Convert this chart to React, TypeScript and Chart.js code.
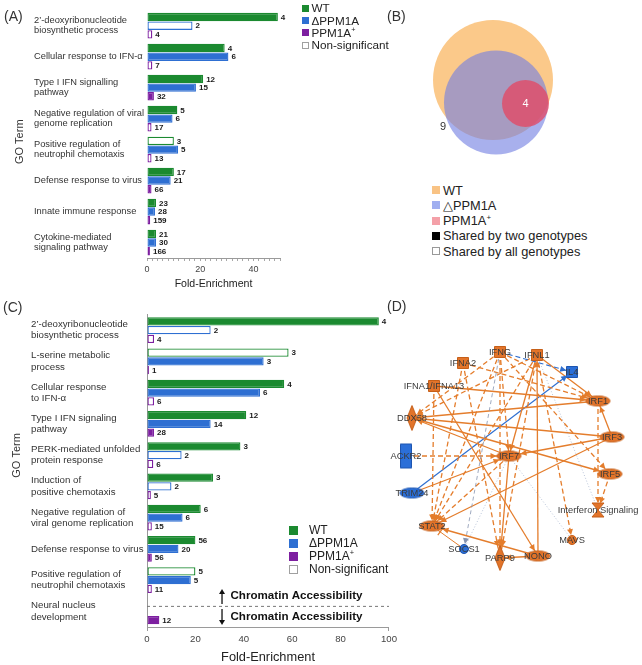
import React, { useEffect, useRef } from 'react';
import { Chart, registerables } from 'chart.js';

Chart.register(...registerables);

const FONT = '"Liberation Sans", Arial, Helvetica, sans-serif';
const GREEN = '#1b8a30';
const BLUE = '#2e6fd2';
const PURPLE = '#7d1fa0';
const TEXT = '#333333';
const ORANGE = '#e2742a';
const ORANGE_EDGE = '#e47d2c';
const NODE_BLUE = '#2b6fd8';

// ---------------- Panel A ----------------
const categoriesA = [
  ['2’-deoxyribonucleotide', 'biosynthetic process'],
  ['Cellular response to IFN-α'],
  ['Type I IFN signalling', 'pathway'],
  ['Negative regulation of viral', 'genome replication'],
  ['Positive regulation of', 'neutrophil chemotaxis'],
  ['Defense response to virus'],
  ['Innate immune response'],
  ['Cytokine-mediated', 'signaling pathway'],
];
const wtFoldA = [49.2, 29.2, 21.1, 11.4, 10.1, 10.1, 3.4, 3.4];
const deltaFoldA = [17.1, 30.6, 18.4, 9.6, 11.7, 8.9, 3.0, 3.4];
const plusFoldA = [2.0, 2.0, 2.6, 1.7, 1.7, 1.7, 1.2, 1.1];
const wtCountA = [4, 4, 12, 5, 3, 17, 23, 21];
const deltaCountA = [2, 6, 15, 6, 5, 21, 28, 30];
const plusCountA = [4, 7, 32, 17, 13, 66, 159, 166];
const wtSigA = [1, 1, 1, 1, 0, 1, 1, 1];
const deltaSigA = [0, 1, 1, 1, 1, 1, 1, 1];
const plusSigA = [0, 0, 1, 0, 0, 1, 0, 0];
const xTicksA = [0, 20, 40];

// ---------------- Panel C ----------------
const categoriesC = [
  ['2’-deoxyribonucleotide', 'biosynthetic process'],
  ['L-serine metabolic', 'process'],
  ['Cellular response', 'to IFN-α'],
  ['Type I IFN signaling', 'pathway'],
  ['PERK-mediated unfolded', 'protein response'],
  ['Induction of', 'positive chemotaxis'],
  ['Negative regulation of', 'viral genome replication'],
  ['Defense response to virus'],
  ['Positive regulation of', 'neutrophil chemotaxis'],
  ['Neural nucleus', 'development'],
];
const wtFoldC = [95.8, 58.5, 56.7, 41.0, 38.6, 27.3, 22.2, 20.0, 20.0, null];
const deltaFoldC = [26.3, 48.2, 46.7, 26.3, 14.3, 10.1, 14.7, 13.0, 18.1, null];
const plusFoldC = [2.9, 0.8, 2.9, 2.9, 2.6, 1.6, 2.0, 2.0, 2.0, 5.1];
const wtCountC = [4, 3, 4, 12, 3, 3, 6, 56, 5, null];
const deltaCountC = [2, 3, 6, 14, 2, 2, 6, 20, 5, null];
const plusCountC = [4, 1, 6, 28, 6, 5, 15, 56, 11, 12];
const wtSigC = [1, 0, 1, 1, 1, 1, 1, 1, 0, 0];
const deltaSigC = [0, 1, 1, 1, 0, 0, 1, 1, 1, 0];
const plusSigC = [0, 0, 0, 1, 0, 0, 0, 1, 0, 1];
const xTicksC = [0, 20, 40, 60, 80, 100];
const accessibilityTexts = ['Chromatin Accessibility', 'Chromatin Accessibility'];

const seriesNames = ['WT', 'ΔPPM1A', 'PPM1A+'];
const seriesColors = [GREEN, BLUE, PURPLE];

// ---------------- Panel B (Venn) ----------------
const vennNames = ['WT', '△PPM1A', 'PPM1A+'];
const vennX = [73, 76, 105.5];
const vennY = [65, 87.5, 88.5];
const vennR = [60, 52, 23.5];
const vennFill = ['#fbc98a', 'rgba(115,128,226,0.62)', 'rgba(229,68,96,0.75)'];
const vennLegendFill = ['#f9c384', '#a0aff0', '#f4a0a8'];
const vennCountText = ['9', '4'];
const vennCountX = [23, 105.5];
const vennCountY = [112, 89];
const vennCountColor = ['#333333', '#ffffff'];

// ---------------- Panel D (network) ----------------
const nodeNames = ['IFNG', 'IFNL1', 'IL4', 'IFNA2', 'IFNA1/IFNA13', 'DDX58', 'IRF1', 'IRF3', 'ACKR2', 'IRF7', 'IRF5', 'TRIM24', 'STAT2', 'SOCS1', 'PARP9', 'NONO', 'MAVS', 'Interferon Signaling'];
const nodeX = [120, 157, 192, 83, 54, 32, 218, 232, 26, 129, 230, 32, 52, 84, 120, 158, 192, 218];
const nodeY = [32, 35, 52, 43, 66, 98, 81, 117, 136, 136, 154, 173, 206, 229, 238, 236, 220, 190];
const nodeShape = ['rect', 'rect', 'rect', 'rect', 'rect', 'diamond', 'ellipse', 'ellipse', 'tall', 'ellipse', 'ellipse', 'ellipse', 'ellipse', 'circle', 'diamond', 'ellipse', 'circle', 'hourglass'];
const nodeDown = [0, 0, 1, 0, 0, 0, 0, 0, 1, 0, 0, 1, 0, 1, 0, 0, 0, 0];
const edges: [string, string, string][] = [
  ['IFNG', 'IRF1', 'dash'],
  ['IFNG', 'DDX58', 'dash'],
  ['IFNG', 'IRF7', 'dash'],
  ['IFNG', 'STAT2', 'dash'],
  ['IFNG', 'PARP9', 'dash'],
  ['IFNG', 'IRF5', 'dash'],
  ['IFNG', 'IL4', 'blueDash'],
  ['IFNG', 'SOCS1', 'grayDash'],
  ['IFNL1', 'DDX58', 'dash'],
  ['IFNL1', 'IRF7', 'solid'],
  ['IFNL1', 'STAT2', 'dash'],
  ['IFNL1', 'PARP9', 'dash'],
  ['IFNL1', 'IRF1', 'solid'],
  ['IFNL1', 'Interferon Signaling', 'dot'],
  ['IFNL1', 'MAVS', 'dash'],
  ['NONO', 'IFNL1', 'solid'],
  ['IFNA2', 'STAT2', 'dash'],
  ['IFNA2', 'PARP9', 'dash'],
  ['IFNA2', 'IRF1', 'dash'],
  ['IFNA1/IFNA13', 'IRF1', 'solid'],
  ['IFNA1/IFNA13', 'NONO', 'solid'],
  ['IFNA1/IFNA13', 'STAT2', 'dash'],
  ['IRF1', 'DDX58', 'solid'],
  ['IRF3', 'DDX58', 'solid'],
  ['IRF7', 'DDX58', 'solid'],
  ['IRF3', 'IRF1', 'solid'],
  ['IRF3', 'IRF7', 'solid'],
  ['IRF3', 'STAT2', 'solid'],
  ['IRF1', 'Interferon Signaling', 'dash'],
  ['DDX58', 'IRF5', 'solid'],
  ['ACKR2', 'IRF7', 'dash'],
  ['TRIM24', 'IL4', 'blue'],
  ['TRIM24', 'IRF7', 'solid'],
  ['IRF7', 'STAT2', 'dash'],
  ['IRF7', 'PARP9', 'solid'],
  ['IRF7', 'MAVS', 'dot'],
  ['SOCS1', 'IRF7', 'dot'],
  ['NONO', 'STAT2', 'solid'],
  ['NONO', 'PARP9', 'solid'],
  ['SOCS1', 'STAT2', 'inhibit'],
  ['IRF5', 'Interferon Signaling', 'dash'],
];

const EDGE_STYLES: Record<string, { color: string; width: number; dash: number[]; arrow: boolean; bar?: boolean }> = {
  solid: { color: ORANGE_EDGE, width: 1.3, dash: [], arrow: true },
  dash: { color: ORANGE_EDGE, width: 1.3, dash: [5, 3], arrow: true },
  blue: { color: '#2f6fd0', width: 1.2, dash: [], arrow: true },
  blueDash: { color: '#2f6fd0', width: 1.1, dash: [5, 3], arrow: true },
  grayDash: { color: '#8694b0', width: 0.8, dash: [4, 3], arrow: true },
  dot: { color: '#a8b6cf', width: 0.8, dash: [1, 2], arrow: false },
  inhibit: { color: ORANGE_EDGE, width: 1, dash: [], arrow: false, bar: true },
};
const SHAPE_SIZE: Record<string, [number, number]> = {
  rect: [12, 12], tall: [12, 25], ellipse: [25, 11], circle: [10, 10], diamond: [10, 25], hourglass: [12, 14],
};

// ---------------- plugins ----------------
const barLabelPlugin = {
  id: 'barLabels',
  afterDatasetsDraw(chart: any, _a: any, opts: any) {
    const ctx = chart.ctx;
    ctx.save();
    ctx.font = `bold 8px ${FONT}`;
    ctx.fillStyle = '#1a1a1a';
    ctx.textBaseline = 'middle';
    ctx.textAlign = 'left';
    chart.data.datasets.forEach((_ds: any, i: number) => {
      const meta = chart.getDatasetMeta(i);
      meta.data.forEach((bar: any, j: number) => {
        const c = opts.counts[i][j];
        if (c == null || chart.data.datasets[i].data[j] == null) return;
        ctx.fillText(String(c), bar.x + 3, bar.y + 0.5);
      });
    });
    ctx.restore();
  },
};

function arrowLine(ctx: CanvasRenderingContext2D, x1: number, y1: number, x2: number, y2: number) {
  const dx = x2 - x1, dy = y2 - y1, len = Math.hypot(dx, dy);
  const ux = dx / len, uy = dy / len;
  ctx.beginPath();
  ctx.moveTo(x1, y1);
  ctx.lineTo(x2 - ux * 4, y2 - uy * 4);
  ctx.stroke();
  ctx.beginPath();
  ctx.moveTo(x2, y2);
  ctx.lineTo(x2 - ux * 5 - uy * 3, y2 - uy * 5 + ux * 3);
  ctx.lineTo(x2 - ux * 5 + uy * 3, y2 - uy * 5 - ux * 3);
  ctx.closePath();
  ctx.fill();
}

const separatorPlugin = {
  id: 'separator',
  afterDatasetsDraw(chart: any, _a: any, opts: any) {
    const { ctx, chartArea, scales } = chart;
    const x = scales.x, y = scales.y;
    const sy = y.getPixelForValue(opts.at);
    ctx.save();
    ctx.strokeStyle = '#777';
    ctx.lineWidth = 1;
    ctx.setLineDash([3, 3]);
    ctx.beginPath();
    ctx.moveTo(chartArea.left, sy);
    ctx.lineTo(chartArea.right, sy);
    ctx.stroke();
    ctx.setLineDash([]);
    const ax = x.getPixelForValue(opts.arrowAt);
    const tx = x.getPixelForValue(opts.textAt);
    ctx.strokeStyle = '#111';
    ctx.fillStyle = '#111';
    ctx.lineWidth = 1.3;
    arrowLine(ctx, ax, sy - 2.5, ax, sy - 17.5);
    arrowLine(ctx, ax, sy + 2.5, ax, sy + 18.5);
    ctx.font = `bold 11.6px ${FONT}`;
    ctx.textBaseline = 'middle';
    ctx.textAlign = 'left';
    ctx.fillText(opts.texts[0], tx, sy - 10.5);
    ctx.fillText(opts.texts[1], tx, sy + 10.5);
    ctx.restore();
  },
};

const vennTextPlugin = {
  id: 'vennText',
  afterDatasetsDraw(chart: any) {
    const { ctx, scales } = chart;
    ctx.save();
    ctx.font = `11px ${FONT}`;
    ctx.textAlign = 'center';
    ctx.textBaseline = 'middle';
    vennCountText.forEach((t, i) => {
      ctx.fillStyle = vennCountColor[i];
      ctx.fillText(t, scales.x.getPixelForValue(vennCountX[i]), scales.y.getPixelForValue(vennCountY[i]));
    });
    ctx.restore();
  },
};

const networkPlugin = {
  id: 'network',
  afterDatasetsDraw(chart: any) {
    const { ctx, scales } = chart;
    const px = (i: number) => scales.x.getPixelForValue(nodeX[i]);
    const py = (i: number) => scales.y.getPixelForValue(nodeY[i]);
    ctx.save();
    edges.forEach(([a, b, style]) => {
      const st = EDGE_STYLES[style];
      if (!st.arrow && !st.bar) return;
      const ia = nodeNames.indexOf(a), ib = nodeNames.indexOf(b);
      const x1 = px(ia), y1 = py(ia), x2 = px(ib), y2 = py(ib);
      const dx = x2 - x1, dy = y2 - y1, len = Math.hypot(dx, dy);
      const ux = dx / len, uy = dy / len;
      const [w, h] = SHAPE_SIZE[nodeShape[ib]];
      const r = 1 / Math.sqrt((ux / (w / 2)) ** 2 + (uy / (h / 2)) ** 2);
      const tx = x2 - ux * r, ty = y2 - uy * r;
      ctx.fillStyle = st.color;
      ctx.strokeStyle = st.color;
      if (st.arrow) {
        ctx.beginPath();
        ctx.moveTo(tx, ty);
        ctx.lineTo(tx - ux * 6 - uy * 3, ty - uy * 6 + ux * 3);
        ctx.lineTo(tx - ux * 6 + uy * 3, ty - uy * 6 - ux * 3);
        ctx.closePath();
        ctx.fill();
      } else if (st.bar) {
        ctx.lineWidth = 1.2;
        ctx.beginPath();
        ctx.moveTo(tx - ux * 2 - uy * 4, ty - uy * 2 + ux * 4);
        ctx.lineTo(tx - ux * 2 + uy * 4, ty - uy * 2 - ux * 4);
        ctx.stroke();
      }
    });
    ctx.font = `9.3px ${FONT}`;
    ctx.fillStyle = '#3a3a3a';
    ctx.textAlign = 'center';
    ctx.textBaseline = 'middle';
    nodeNames.forEach((n, i) => ctx.fillText(n, px(i), py(i) + 0.5));
    ctx.restore();
  },
};

function nodeImage(shape: string, fill: string, stroke: string) {
  const [w, h] = SHAPE_SIZE[shape];
  const c = document.createElement('canvas');
  c.width = w + 2;
  c.height = h + 2;
  const g = c.getContext('2d')!;
  g.translate(1, 1);
  g.fillStyle = fill;
  g.strokeStyle = stroke;
  g.lineWidth = 1;
  g.beginPath();
  if (shape === 'rect' || shape === 'tall') g.rect(0.5, 0.5, w - 1, h - 1);
  else if (shape === 'ellipse' || shape === 'circle') g.ellipse(w / 2, h / 2, w / 2 - 0.5, h / 2 - 0.5, 0, 0, Math.PI * 2);
  else if (shape === 'diamond') {
    g.moveTo(w / 2, 0); g.lineTo(w, h / 2); g.lineTo(w / 2, h); g.lineTo(0, h / 2); g.closePath();
  } else {
    g.moveTo(0, 0); g.lineTo(w, 0); g.lineTo(w / 2, h / 2); g.lineTo(w, h); g.lineTo(0, h); g.lineTo(w / 2, h / 2); g.closePath();
  }
  g.fill();
  g.stroke();
  return c;
}

// ---------------- chart builders ----------------
function makeBarChart(canvas: HTMLCanvasElement, p: any) {
  const data = [p.wt, p.delta, p.plus];
  const sig = [p.wtSig, p.deltaSig, p.plusSig];
  return new Chart(canvas, {
    type: 'bar',
    data: {
      labels: p.cats,
      datasets: seriesNames.map((name, i) => ({
        label: name,
        data: data[i],
        xAxisID: 'x',
        yAxisID: 'y',
        backgroundColor: sig[i].map((v: number) => (v ? seriesColors[i] : '#ffffff')),
        borderColor: seriesColors[i],
        borderWidth: 1.3,
        borderSkipped: false,
        categoryPercentage: 0.84,
        barPercentage: 0.97,
      })),
    },
    options: {
      indexAxis: 'y',
      responsive: false,
      animation: false,
      events: [],
      layout: { padding: p.padding, autoPadding: false },
      plugins: {
        legend: { display: false },
        tooltip: { enabled: false },
        barLabels: { counts: p.counts },
        separator: p.separator || false,
      } as any,
      scales: {
        y: {
          type: 'category', position: 'left', weight: 1,
          afterFit: (s: any) => { s.width = p.labelW; },
          grid: { display: false },
          border: { display: p.yBorder, color: '#999', width: 1 },
          ticks: { crossAlign: 'far', autoSkip: false, padding: 0, color: TEXT, font: { family: FONT, size: p.catSize, lineHeight: p.catLH } },
        },
        yTitle: {
          type: 'linear', position: 'left', weight: 2, display: true,
          ticks: { display: false }, grid: { display: false }, border: { display: false },
          afterFit: (s: any) => { s.width = p.titleW; },
          title: { display: true, text: p.yTitle, color: TEXT, font: { family: FONT, size: 11 }, padding: { top: p.titlePad, bottom: 0 } },
        },
        x: {
          type: 'linear', position: 'bottom', min: 0, max: p.xMax,
          afterFit: (s: any) => { s.height = p.xH; },
          ticks: {
            stepSize: p.step, autoSkip: false, maxRotation: 0, padding: 3, color: '#444',
            font: { family: FONT, size: p.tickSize },
            callback: (v: any) => (p.xTicks.includes(v) ? String(v) : ''),
          },
          grid: { drawOnChartArea: false, tickLength: p.tickLen, color: p.tickColor },
          border: { color: '#9a9a9a', width: 1 },
          title: { display: true, text: 'Fold-Enrichment', color: '#222', font: { family: FONT, size: p.xTitleSize }, padding: { top: 0, bottom: 0 } },
        },
      } as any,
    },
    plugins: [barLabelPlugin, separatorPlugin],
  } as any);
}

function makeVenn(canvas: HTMLCanvasElement) {
  return new Chart(canvas, {
    type: 'bubble',
    data: {
      datasets: [{
        data: vennNames.map((_, i) => ({ x: vennX[i], y: vennY[i], r: vennR[i] })),
        backgroundColor: vennFill,
        borderWidth: 0,
        clip: false,
      }],
    },
    options: {
      responsive: false, animation: false, events: [],
      layout: { padding: 0, autoPadding: false },
      plugins: { legend: { display: false }, tooltip: { enabled: false } },
      scales: {
        x: { type: 'linear', min: 0, max: 150, display: false },
        y: { type: 'linear', min: 0, max: 150, reverse: true, display: false },
      },
    },
    plugins: [vennTextPlugin],
  } as any);
}

function makeNetwork(canvas: HTMLCanvasElement) {
  const images = nodeShape.map((s, i) =>
    nodeDown[i] ? nodeImage(s, NODE_BLUE, '#1d55b0') : nodeImage(s, ORANGE, '#c65f18'));
  const edgeSets = edges.map(([a, b, style]) => {
    const st = EDGE_STYLES[style];
    const ia = nodeNames.indexOf(a), ib = nodeNames.indexOf(b);
    return {
      data: [{ x: nodeX[ia], y: nodeY[ia] }, { x: nodeX[ib], y: nodeY[ib] }],
      showLine: true, pointRadius: 0, borderColor: st.color, borderWidth: st.width,
      borderDash: st.dash, order: 1,
    };
  });
  return new Chart(canvas, {
    type: 'scatter',
    data: {
      datasets: [
        {
          data: nodeNames.map((_, i) => ({ x: nodeX[i], y: nodeY[i] })),
          pointStyle: images, pointRadius: 6, order: 0, clip: false,
        },
        ...edgeSets,
      ],
    },
    options: {
      responsive: false, animation: false, events: [],
      layout: { padding: 0, autoPadding: false },
      plugins: { legend: { display: false }, tooltip: { enabled: false } },
      scales: {
        x: { type: 'linear', min: 0, max: 262, display: false },
        y: { type: 'linear', min: 0, max: 262, reverse: true, display: false },
      },
    },
    plugins: [networkPlugin],
  } as any);
}

// ---------------- components ----------------
function seriesLabel(name: string) {
  if (name.endsWith('+')) {
    return <>{name.slice(0, -1)}<sup style={{ fontSize: '0.62em', verticalAlign: 'super', lineHeight: 0 }}>+</sup></>;
  }
  return name;
}

function Legend(props: { items: { label: string; fill: string; border?: string }[]; left: number; top: number; rowH: number; size: number; sq: number; gap: number }) {
  const { items, left, top, rowH, size, sq, gap } = props;
  return (
    <div style={{ position: 'absolute', left, top, fontSize: size, color: '#222' }}>
      {items.map((it) => (
        <div key={it.label} style={{ display: 'flex', alignItems: 'center', height: rowH, whiteSpace: 'nowrap', lineHeight: `${rowH}px` }}>
          <span style={{ width: sq, height: sq, background: it.fill, border: it.border ? `1px solid ${it.border}` : 'none', boxSizing: 'border-box', marginRight: gap, flex: 'none' }} />
          <span>{seriesLabel(it.label)}</span>
        </div>
      ))}
    </div>
  );
}

const panelLabel = (t: string, left: number, top: number) => (
  <div style={{ position: 'absolute', left, top, fontSize: 14, lineHeight: '14px', color: '#333' }}>{t}</div>
);

export default function App() {
  const aRef = useRef<HTMLCanvasElement>(null);
  const bRef = useRef<HTMLCanvasElement>(null);
  const cRef = useRef<HTMLCanvasElement>(null);
  const dRef = useRef<HTMLCanvasElement>(null);

  useEffect(() => {
    const a = makeBarChart(aRef.current!, {
      cats: categoriesA, wt: wtFoldA, delta: deltaFoldA, plus: plusFoldA,
      wtSig: wtSigA, deltaSig: deltaSigA, plusSig: plusSigA,
      counts: [wtCountA, deltaCountA, plusCountA],
      padding: { top: 2, bottom: 4.6, left: 0, right: 10 },
      titleW: 34, titlePad: 13.4, yTitle: 'GO Term     ', labelW: 113, yBorder: false,
      catSize: 9.3, catLH: 1.1, xMax: 50, step: 2, xTicks: xTicksA, tickSize: 9,
      tickLen: 3, tickColor: '#a8a8a8', xH: 32.4, xTitleSize: 10.6,
    });
    const c = makeBarChart(cRef.current!, {
      cats: categoriesC, wt: wtFoldC, delta: deltaFoldC, plus: plusFoldC,
      wtSig: wtSigC, deltaSig: deltaSigC, plusSig: plusSigC,
      counts: [wtCountC, deltaCountC, plusCountC],
      padding: { top: 16.5, bottom: 0, left: 0, right: 10 },
      titleW: 31, titlePad: 10.4, yTitle: '          GO Term', labelW: 116, yBorder: true,
      catSize: 9.7, catLH: 1.15, xMax: 100, step: 20, xTicks: xTicksC, tickSize: 9.6,
      tickLen: 4,
      tickColor: (ctx: any) => (ctx.tick && (ctx.tick.value === 0 || ctx.tick.value === 100) ? '#9a9a9a' : 'rgba(0,0,0,0)'),
      xH: 38, xTitleSize: 12.8,
      separator: { at: 8.84, arrowAt: 31, textAt: 34.5, texts: accessibilityTexts },
    });
    const b = makeVenn(bRef.current!);
    const d = makeNetwork(dRef.current!);
    return () => { a.destroy(); b.destroy(); c.destroy(); d.destroy(); };
  }, []);

  const barLegend = [
    ...seriesNames.map((n, i) => ({ label: n, fill: seriesColors[i] })),
    { label: 'Non-significant', fill: '#ffffff', border: '#a0a0a0' },
  ];
  const vennLegend = [
    ...vennNames.map((n, i) => ({ label: n, fill: vennLegendFill[i] })),
    { label: 'Shared by two genotypes', fill: '#000000' },
    { label: 'Shared by all genotypes', fill: '#ffffff', border: '#999999' },
  ];

  return (
    <div style={{ position: 'fixed', left: 0, top: 0, width: 642, height: 665, background: '#ffffff', fontFamily: FONT, overflow: 'hidden' }}>
      <canvas ref={aRef} width={290} height={295} style={{ position: 'absolute', left: 0, top: 0 }} />
      <canvas ref={cRef} width={400} height={367} style={{ position: 'absolute', left: 0, top: 298 }} />
      <canvas ref={bRef} width={150} height={150} style={{ position: 'absolute', left: 420, top: 15 }} />
      <canvas ref={dRef} width={262} height={262} style={{ position: 'absolute', left: 380, top: 320 }} />
      {panelLabel('(A)', 4, 9)}
      {panelLabel('(B)', 387, 9)}
      {panelLabel('(C)', 3, 300)}
      {panelLabel('(D)', 387, 299)}
      <Legend items={barLegend} left={302} top={2.4} rowH={12.2} size={11.7} sq={7} gap={2.5} />
      <Legend items={vennLegend} left={432} top={182.5} rowH={15.3} size={12.8} sq={8} gap={3} />
      <Legend items={barLegend} left={289} top={523.5} rowH={13} size={12} sq={9} gap={11} />
    </div>
  );
}
